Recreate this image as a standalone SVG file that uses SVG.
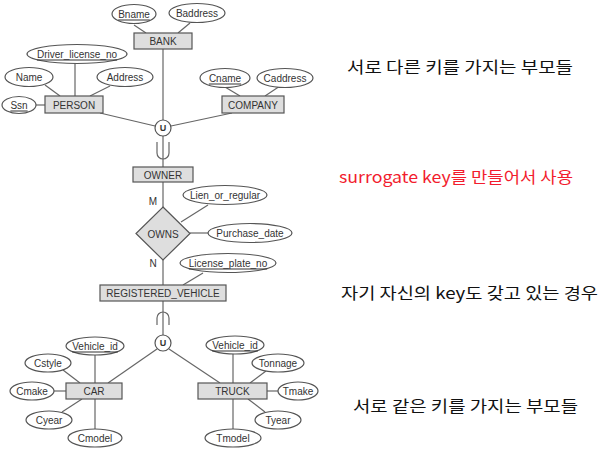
<svg xmlns="http://www.w3.org/2000/svg" width="603" height="464" viewBox="0 0 603 464">
<style>
.ent{fill:#dedede;stroke:#555;stroke-width:1.2}
.att{fill:#fff;stroke:#555;stroke-width:1.2}
.ln{stroke:#666;stroke-width:1.2;fill:none}
.t{font-family:"Liberation Sans",Arial,sans-serif;font-size:10px;fill:#333;text-anchor:middle;dominant-baseline:central}
.k{text-decoration:underline}
.kr{font-family:"Noto Sans CJK KR","Noto Sans",sans-serif;font-size:16px;fill:#111}
</style>
<rect width="603" height="464" fill="#fff"/>
<g id="connectors">
<line class="ln" x1="163" y1="49" x2="163" y2="120"/>
<line class="ln" x1="134" y1="25" x2="146" y2="33"/>
<line class="ln" x1="190" y1="23" x2="178" y2="33"/>
<line class="ln" x1="75" y1="63" x2="75" y2="96"/>
<line class="ln" x1="45" y1="85" x2="60" y2="96"/>
<line class="ln" x1="110" y1="86" x2="90" y2="96"/>
<line class="ln" x1="36" y1="105" x2="45" y2="105"/>
<line class="ln" x1="225" y1="87" x2="240" y2="96"/>
<line class="ln" x1="280" y1="86" x2="265" y2="96"/>
<line class="ln" x1="100" y1="113" x2="155" y2="126"/>
<line class="ln" x1="232" y1="113" x2="171" y2="126"/>
<line class="ln" x1="163" y1="136" x2="163" y2="167"/>
<path class="ln" d="M157,142 V153 A6,6 0 0 0 169,153 V142"/>
<line class="ln" x1="163" y1="182" x2="163" y2="207"/>
<line class="ln" x1="163" y1="260" x2="163" y2="285"/>
<line class="ln" x1="181" y1="222" x2="208" y2="205"/>
<line class="ln" x1="190" y1="233" x2="208" y2="233"/>
<line class="ln" x1="203" y1="273" x2="183" y2="285"/>
<line class="ln" x1="163" y1="301" x2="163" y2="335"/>
<path class="ln" d="M157,325 V318 A6,6 0 0 1 169,318 V325"/>
<line class="ln" x1="157" y1="349" x2="108" y2="383"/>
<line class="ln" x1="169" y1="349" x2="220" y2="383"/>
<line class="ln" x1="95" y1="355" x2="95" y2="383"/>
<line class="ln" x1="63" y1="370" x2="80" y2="383"/>
<line class="ln" x1="54" y1="391" x2="66" y2="391"/>
<line class="ln" x1="62" y1="412" x2="82" y2="399"/>
<line class="ln" x1="95" y1="399" x2="95" y2="429"/>
<line class="ln" x1="233" y1="354" x2="233" y2="383"/>
<line class="ln" x1="266" y1="371" x2="250" y2="383"/>
<line class="ln" x1="267" y1="391" x2="278" y2="391"/>
<line class="ln" x1="265" y1="412" x2="248" y2="399"/>
<line class="ln" x1="233" y1="399" x2="233" y2="429"/>
</g>
<g id="BANK"><rect class="ent" x="134" y="33" width="58" height="16"/><text class="t" x="163" y="41.5">BANK</text></g>
<g id="Bname"><ellipse class="att" cx="134" cy="14" rx="22" ry="9.5"/><text class="t k" x="134" y="14">Bname</text></g>
<g id="Baddress"><ellipse class="att" cx="197" cy="13" rx="28" ry="9.5"/><text class="t" x="197" y="13">Baddress</text></g>
<g id="PERSON"><rect class="ent" x="45" y="96" width="58" height="17"/><text class="t" x="74" y="105">PERSON</text></g>
<g id="Driver_license_no"><ellipse class="att" cx="77" cy="54" rx="50" ry="9.5"/><text class="t k" x="77" y="54">Driver_license_no</text></g>
<g id="Name"><ellipse class="att" cx="29" cy="77" rx="24" ry="9.5"/><text class="t" x="29" y="77">Name</text></g>
<g id="Address"><ellipse class="att" cx="125" cy="77" rx="28" ry="9.5"/><text class="t" x="125" y="77">Address</text></g>
<g id="Ssn"><ellipse class="att" cx="19" cy="105" rx="17" ry="8.5"/><text class="t k" x="19" y="105">Ssn</text></g>
<g id="COMPANY"><rect class="ent" x="222" y="96" width="62" height="17"/><text class="t" x="253" y="105">COMPANY</text></g>
<g id="Cname"><ellipse class="att" cx="225" cy="78" rx="25" ry="9.5"/><text class="t k" x="225" y="78">Cname</text></g>
<g id="Caddress"><ellipse class="att" cx="285" cy="78" rx="28" ry="9.5"/><text class="t" x="285" y="78">Caddress</text></g>
<g id="U1"><circle class="att" cx="163" cy="128" r="8"/><text class="t" x="163" y="128" style="font-weight:bold;font-size:9px">U</text></g>
<g id="OWNER"><rect class="ent" x="133" y="167" width="60" height="15"/><text class="t" x="163" y="175">OWNER</text></g>
<g id="OWNS"><polygon class="ent" points="163,207 190,233.5 163,260 136,233.5"/><text class="t" x="163" y="234">OWNS</text></g>
<text class="t" x="153" y="201">M</text>
<text class="t" x="153" y="263">N</text>
<g id="Lien_or_regular"><ellipse class="att" cx="225" cy="195" rx="42" ry="9.5"/><text class="t" x="225" y="195">Lien_or_regular</text></g>
<g id="Purchase_date"><ellipse class="att" cx="250" cy="233" rx="42" ry="9.5"/><text class="t" x="250" y="233">Purchase_date</text></g>
<g id="License_plate_no"><ellipse class="att" cx="228" cy="263" rx="48" ry="9.5"/><text class="t k" x="228" y="263">License_plate_no</text></g>
<g id="REGISTERED_VEHICLE"><rect class="ent" x="100" y="285" width="126" height="16"/><text class="t" x="163" y="293.5">REGISTERED_VEHICLE</text></g>
<g id="U2"><circle class="att" cx="163" cy="343" r="8"/><text class="t" x="163" y="343" style="font-weight:bold;font-size:9px">U</text></g>
<g id="CAR"><rect class="ent" x="66" y="383" width="56" height="16"/><text class="t" x="94" y="391.5">CAR</text></g>
<g id="Vehicle_id_car"><ellipse class="att" cx="95" cy="346" rx="29" ry="9"/><text class="t k" x="95" y="346">Vehicle_id</text></g>
<g id="Cstyle"><ellipse class="att" cx="48" cy="363" rx="23" ry="9"/><text class="t" x="48" y="363">Cstyle</text></g>
<g id="Cmake"><ellipse class="att" cx="32" cy="391" rx="22" ry="9"/><text class="t" x="32" y="391">Cmake</text></g>
<g id="Cyear"><ellipse class="att" cx="49" cy="420" rx="23" ry="9"/><text class="t" x="49" y="420">Cyear</text></g>
<g id="Cmodel"><ellipse class="att" cx="95" cy="438" rx="27" ry="9"/><text class="t" x="95" y="438">Cmodel</text></g>
<g id="TRUCK"><rect class="ent" x="198" y="383" width="69" height="16"/><text class="t" x="232.5" y="391.5">TRUCK</text></g>
<g id="Vehicle_id_truck"><ellipse class="att" cx="235" cy="345" rx="29" ry="9"/><text class="t k" x="235" y="345">Vehicle_id</text></g>
<g id="Tonnage"><ellipse class="att" cx="278" cy="363" rx="26" ry="9"/><text class="t" x="278" y="363">Tonnage</text></g>
<g id="Tmake"><ellipse class="att" cx="298" cy="391" rx="20" ry="9"/><text class="t" x="298" y="391">Tmake</text></g>
<g id="Tyear"><ellipse class="att" cx="278" cy="420" rx="23" ry="9"/><text class="t" x="278" y="420">Tyear</text></g>
<g id="Tmodel"><ellipse class="att" cx="233" cy="438" rx="28" ry="9"/><text class="t" x="233" y="438">Tmodel</text></g>
<g id="notes">
<text class="kr" x="347" y="73" textLength="226" lengthAdjust="spacingAndGlyphs">서로 다른 키를 가지는 부모들</text>
<text class="kr" x="339" y="183" textLength="234" lengthAdjust="spacingAndGlyphs" style="fill:#f21c2e">surrogate key를 만들어서 사용</text>
<text class="kr" x="341" y="299" textLength="257" lengthAdjust="spacingAndGlyphs">자기 자신의 key도 갖고 있는 경우</text>
<text class="kr" x="353" y="412" textLength="225" lengthAdjust="spacingAndGlyphs">서로 같은 키를 가지는 부모들</text>
</g>
</svg>
